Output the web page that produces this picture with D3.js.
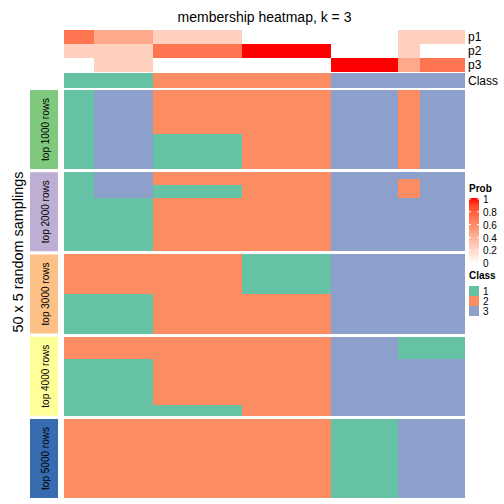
<!DOCTYPE html>
<html><head><meta charset="utf-8">
<script src="https://cdn.jsdelivr.net/npm/d3@7"></script>
<style>html,body{margin:0;padding:0;background:#fff;}svg{display:block;font-family:"Liberation Sans",Arial,sans-serif;}</style>
</head><body><svg id="chart" width="504" height="504"></svg>
<script>
// ---- data ----
const groupSizes = [4, 8, 12, 12, 9, 3, 6];        // samples per column group (54 samples)
const p1 = [0.7, 0.45, 0.25, 0, 0, 0.25, 0.25];
const p2 = [0.25, 0.25, 0.7, 1, 0, 0.25, 0];
const p3 = [0, 0.25, 0, 0, 1, 0.45, 0.7];
const consensusClass = [1, 1, 2, 2, 3, 3, 3];
const blocks = ["top 1000 rows", "top 2000 rows", "top 3000 rows", "top 4000 rows", "top 5000 rows"];
const rowsPerBlock = 50;
// per block, per column group: runs of [class, number of samplings]
const partitions = [
  [[[1,50]], [[3,50]], [[2,28],[1,22]], [[2,50]], [[3,50]], [[2,50]], [[3,50]]],
  [[[1,50]], [[3,16],[1,34]], [[2,8],[1,8],[2,34]], [[2,50]], [[3,50]], [[3,4],[2,12],[3,34]], [[3,50]]],
  [[[2,25],[1,25]], [[2,25],[1,25]], [[2,50]], [[1,25],[2,25]], [[3,50]], [[3,50]], [[3,50]]],
  [[[2,14],[1,36]], [[2,14],[1,36]], [[2,43],[1,7]], [[2,50]], [[3,50]], [[1,14],[3,36]], [[1,14],[3,36]]],
  [[[2,50]], [[2,50]], [[2,50]], [[2,50]], [[1,50]], [[3,50]], [[3,50]]]
];
const classes = [1, 2, 3];
const classColors = ["#66C2A5", "#FC8D62", "#8DA0CB"];
const blockColors = ["#7FC97F", "#BEAED4", "#FDC086", "#FFFF99", "#386CB0"];
const probTicks = [0, 0.2, 0.4, 0.6, 0.8, 1];
const annoRows = ["p1", "p2", "p3"];
const annoValues = [p1, p2, p3];

// ---- layout ----
const svg = d3.select("#chart");
const nSamples = d3.sum(groupSizes);
const x = d3.scaleLinear().domain([0, nSamples]).range([64, 465]);
const starts = groupSizes.map((d, i) => d3.sum(groupSizes.slice(0, i)));
const probColor = d3.scaleLinear().domain([0, 1]).range(["#ffffff", "#ff0000"]).interpolate(d3.interpolateLab);
const classColor = d3.scaleOrdinal().domain(classes).range(classColors);
const blockY = d3.scaleBand().domain(blocks).range([90, 498]).paddingInner(0.0395);
const annoY = d3.scaleBand().domain(annoRows).range([30, 72]);

// title
svg.append("text").attr("x", (x(0) + x(nSamples)) / 2).attr("y", 22).attr("text-anchor", "middle")
  .attr("font-size", 14).text("membership heatmap, k = 3");

// probability annotation rows
annoRows.forEach((r, ri) => {
  svg.append("g").selectAll("rect").data(groupSizes).join("rect")
    .attr("x", (d, i) => x(starts[i])).attr("width", (d, i) => x(starts[i] + d) - x(starts[i]))
    .attr("y", annoY(r)).attr("height", annoY.bandwidth())
    .attr("fill", (d, i) => probColor(annoValues[ri][i])).attr("shape-rendering", "crispEdges");
  svg.append("text").attr("x", 468).attr("y", annoY(r) + annoY.bandwidth() / 2).attr("dy", "0.36em")
    .attr("font-size", 12).text(r);
});
// class annotation
svg.append("g").selectAll("rect").data(groupSizes).join("rect")
  .attr("x", (d, i) => x(starts[i])).attr("width", (d, i) => x(starts[i] + d) - x(starts[i]))
  .attr("y", 73).attr("height", 14.5)
  .attr("fill", (d, i) => classColor(consensusClass[i])).attr("shape-rendering", "crispEdges");
svg.append("text").attr("x", 468).attr("y", 80.5).attr("dy", "0.36em").attr("font-size", 12).text("Class");

// heatmap blocks
blocks.forEach((b, bi) => {
  const y = d3.scaleLinear().domain([0, rowsPerBlock]).range([blockY(b), blockY(b) + blockY.bandwidth()]);
  const cells = [];
  partitions[bi].forEach((runs, gi) => {
    let r0 = 0;
    runs.forEach(([cls, n]) => { cells.push({gi, cls, r0, n}); r0 += n; });
  });
  svg.append("g").selectAll("rect").data(cells).join("rect")
    .attr("x", d => x(starts[d.gi])).attr("width", d => x(starts[d.gi] + groupSizes[d.gi]) - x(starts[d.gi]))
    .attr("y", d => y(d.r0)).attr("height", d => y(d.r0 + d.n) - y(d.r0))
    .attr("fill", d => classColor(d.cls)).attr("shape-rendering", "crispEdges");
  // left strip
  svg.append("rect").attr("x", 30).attr("width", 28).attr("y", blockY(b)).attr("height", blockY.bandwidth())
    .attr("fill", blockColors[bi]);
  const cy = blockY(b) + blockY.bandwidth() / 2;
  svg.append("text").attr("transform", `translate(45,${cy}) rotate(-90)`).attr("text-anchor", "middle")
    .attr("dy", "0.36em").attr("font-size", 10).text(b);
});

// y title
svg.append("text").attr("transform", "translate(23,252) rotate(-90)").attr("text-anchor", "middle")
  .attr("font-size", 14.4).text("50 x 5 random samplings");

// Prob legend
const lg = svg.append("g");
lg.append("text").attr("x", 469).attr("y", 192).attr("font-size", 10).attr("font-weight", "bold").text("Prob");
const grad = svg.append("defs").append("linearGradient").attr("id", "pg").attr("x1", 0).attr("y1", 1).attr("x2", 0).attr("y2", 0);
d3.range(0, 1.0001, 0.1).forEach(t => grad.append("stop").attr("offset", t).attr("stop-color", probColor(t)));
lg.append("rect").attr("x", 469).attr("y", 198).attr("width", 10).attr("height", 66).attr("fill", "url(#pg)");
const ly = d3.scaleLinear().domain([0, 1]).range([263, 199]);
lg.selectAll("line.l").data(probTicks).join("line").attr("x1", 469).attr("x2", 471)
  .attr("y1", d => ly(d)).attr("y2", d => ly(d)).attr("stroke", "#fff").attr("stroke-width", 1);
lg.selectAll("line.r").data(probTicks).join("line").attr("x1", 477).attr("x2", 479)
  .attr("y1", d => ly(d)).attr("y2", d => ly(d)).attr("stroke", "#fff").attr("stroke-width", 1);
lg.selectAll("text.t").data(probTicks).join("text").attr("x", 483).attr("y", d => ly(d) + 0.5).attr("dy", "0.36em")
  .attr("font-size", 10).text(d => d3.format("")(d));

// Class legend
svg.append("text").attr("x", 469).attr("y", 279).attr("font-size", 10).attr("font-weight", "bold").text("Class");
const cl = d3.scaleBand().domain(classes).range([286, 316]);
svg.append("g").selectAll("rect").data(classes).join("rect").attr("x", 469).attr("width", 10)
  .attr("y", d => cl(d)).attr("height", cl.bandwidth()).attr("fill", d => classColor(d));
svg.append("g").selectAll("text").data(classes).join("text").attr("x", 483)
  .attr("y", d => cl(d) + cl.bandwidth() / 2).attr("dy", "0.36em").attr("font-size", 10).text(d => d);
</script></body></html>
